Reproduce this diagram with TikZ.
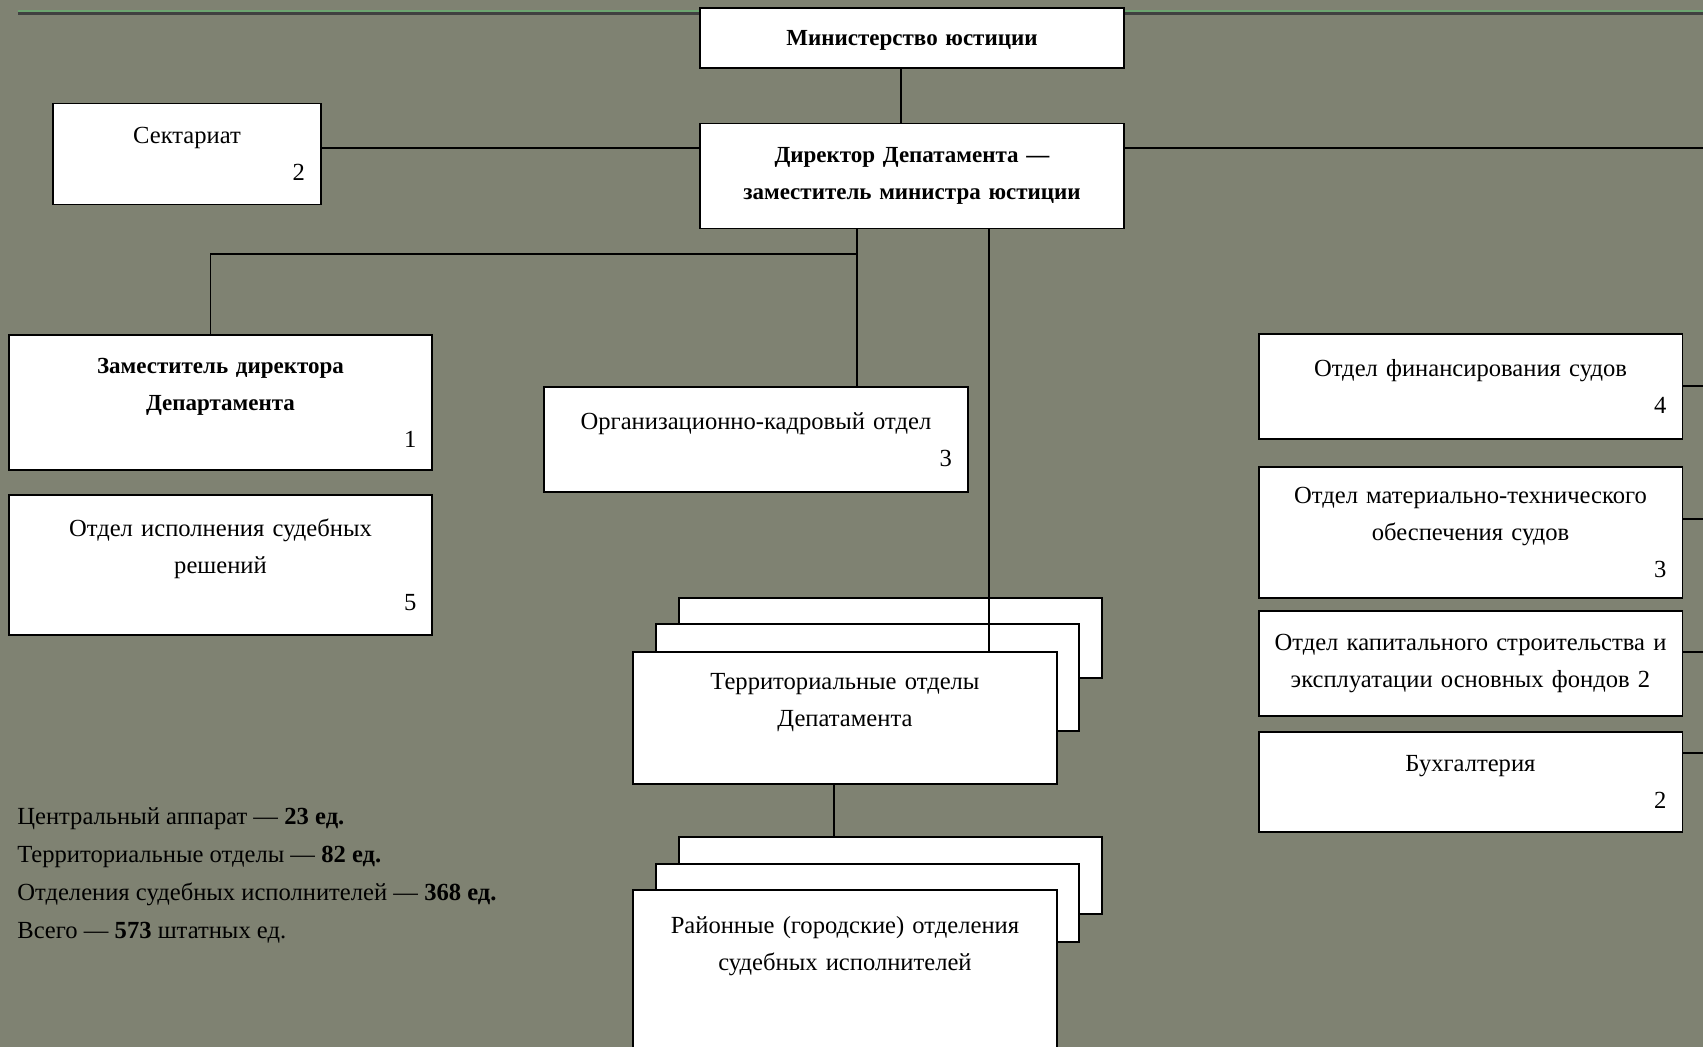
\documentclass[tikz,border=0pt]{standalone}
\usepackage{fontspec}
\setmainfont{Liberation Serif}
\usetikzlibrary{positioning}
\definecolor{slide}{RGB}{127,130,114}
\definecolor{rule}{RGB}{108,164,112}
\newcommand{\staff}[1]{\\\hspace*{0pt plus 1filll}{\fontsize{14}{21}\selectfont\mdseries #1}}

\begin{document}
\begin{tikzpicture}[
    x=0.02cm, y=-0.02cm,
    unit/.style={draw, line width=1.1pt, fill=white, inner xsep=0.32cm, inner ysep=0pt,
        outer sep=0pt, align=center, font=\fontsize{14}{21}\selectfont},
    wide/.style={unit, text width=7.84cm},
    strong/.style={font=\fontsize{13.1}{21}\selectfont\bfseries},
    sheet/.style={draw, line width=1.1pt, fill=white, anchor=north west, minimum width=8.46cm,
        inner sep=0pt, outer sep=0pt},
    link/.style={line width=1.1pt},
    note/.style={font=\fontsize{14}{21.6}\selectfont, align=left, inner sep=0pt, anchor=north west}
]
    % Slide
    \fill[slide] (0,0) rectangle (1703,1047);
    \clip (0,0) rectangle (1703,1047);
    \draw[line width=1.6pt, black!75] (18,13.5) -- (1703,13.5);
    \draw[line width=1.4pt, rule] (18,11) -- (1703,11);

    % Head
    \node[wide, strong, minimum height=1.2cm, text depth=0pt] (ministry) at (912,38) {Министерство юстиции};
    \node[wide, strong, minimum height=2.1cm] (director) at (912,176) {Директор Депатамента —\\заместитель министра юстиции};
    \node[unit, text width=4.72cm, minimum height=2.02cm] (secretariat) at (187,154) {Сектариат\staff{2}};

    % Left side
    \node[wide, strong, minimum height=2.7cm] (deputy) at (220.5,402.5) {Заместитель директора\\Департамента\staff{1}};
    \node[wide, minimum height=2.8cm, below=0.5cm of deputy] (execution) {Отдел исполнения судебных\\решений\staff{5}};
    \node[wide, minimum height=2.1cm] (personnel) at (756,439.5) {Организационно-кадровый отдел\staff{3}};

    % Right side
    \node[wide, minimum height=2.1cm] (finance) at (1470.5,386.5) {Отдел финансирования судов\staff{4}};
    \node[wide, minimum height=2.62cm, below=0.56cm of finance] (supply) {Отдел материально-технического\\обеспечения судов\staff{3}};
    \node[wide, minimum height=2.1cm, below=0.26cm of supply] (building) {Отдел капитального строительства и\\эксплуатации основных фондов 2};
    \node[wide, minimum height=2.0cm, below=0.32cm of building] (accounts) {Бухгалтерия\staff{2}};

    % Stacks
    \node[sheet, minimum height=1.6cm] (territorial-b1) at (679,598) {};
    \node[sheet, minimum height=2.14cm] (territorial-b2) at (656,624) {};
    \node[wide, minimum height=2.64cm, anchor=north west] (territorial) at (633,652) {Территориальные отделы\\Депатамента\\\mbox{}};
    \node[sheet, minimum height=1.54cm] (bailiff-b1) at (679,837) {};
    \node[sheet, minimum height=1.56cm] (bailiff-b2) at (656,864) {};
    \node[wide, minimum height=3.62cm, anchor=north west] (bailiff) at (633,890) {Районные (городские) отделения\\судебных исполнителей\\\mbox{}\\\mbox{}};

    % Totals
    \node[note] (totals) at (17,807) {Центральный аппарат — \textbf{23 ед.}\\
        Территориальные отделы — \textbf{82 ед.}\\
        Отделения судебных исполнителей — \textbf{368 ед.}\\
        Всего — \textbf{573} штатных ед.};

    % Links
    \coordinate (mid) at (901,0);
    \coordinate (bus) at (1703,148);
    \coordinate (trunk) at (857,254);
    \coordinate (side) at (989,0);
    \coordinate (down) at (834,0);
    \draw[link] (ministry.south -| mid) -- (director.north -| mid);
    \draw[link] (secretariat.east |- bus) -- (director.west |- bus);
    \draw[link] (director.east |- bus) -- (bus);
    \draw[link] (director.south -| trunk) -- (trunk) -| ([xshift=-0.2cm]deputy.north);
    \draw[link] (trunk) -- (trunk |- personnel.north);
    \draw[link] (director.south -| side) -- (territorial.north -| side);
    \draw[link] (territorial.south -| down) -- (bailiff-b1.north -| down);
    \foreach \dept/\y in {finance/386, supply/519, building/652, accounts/753} {
        \coordinate (\dept-out) at (1703,\y);
        \draw[link] (\dept.east |- \dept-out) -- (\dept-out);
    }
\end{tikzpicture}
\end{document}
